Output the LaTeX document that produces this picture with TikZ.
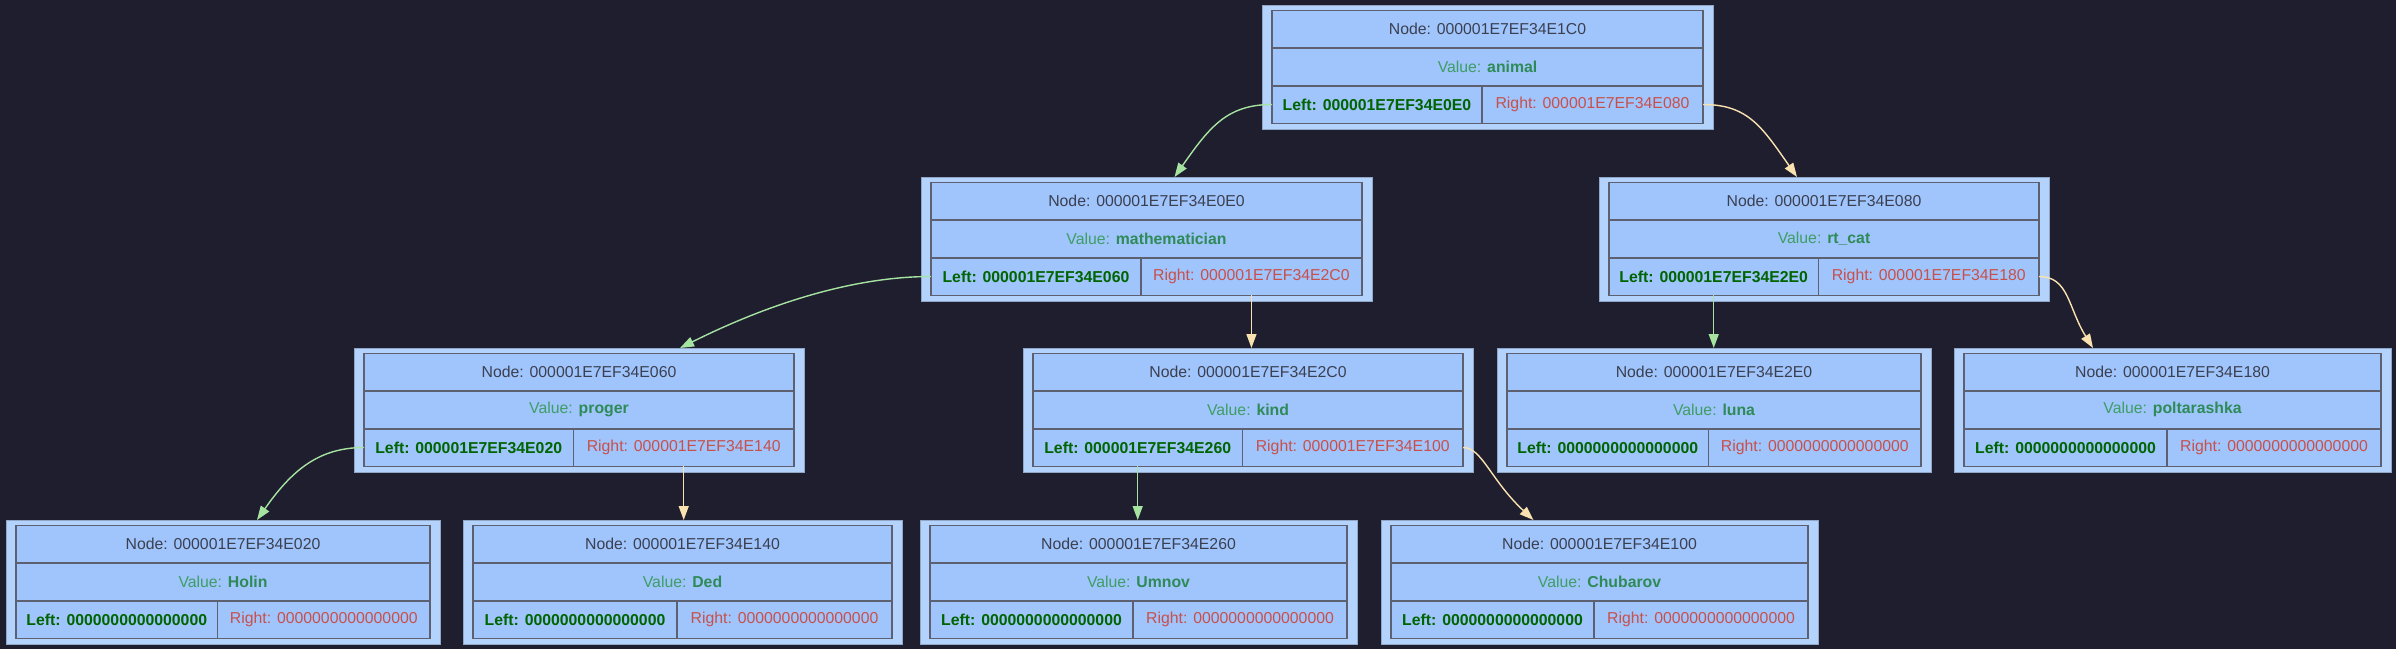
\documentclass[tikz,border=0pt]{standalone}
\usepackage{fontspec}
\setmainfont{Liberation Sans}
\usetikzlibrary{arrows.meta,calc}
\definecolor{bgc}{HTML}{1E1E2E}
\definecolor{outerfill}{HTML}{B4D3FC}
\definecolor{outerline}{HTML}{8FA6C6}
\definecolor{cellfill}{HTML}{A0C4FC}
\definecolor{cellline}{HTML}{5C6070}
\definecolor{nodetxt}{HTML}{3B4050}
\definecolor{valtxt}{HTML}{3E9E64}
\definecolor{valbold}{HTML}{2E8B57}
\definecolor{lefttxt}{HTML}{006400}
\definecolor{righttxt}{HTML}{C8504A}
\definecolor{leftedge}{HTML}{A6E3A1}
\definecolor{rightedge}{HTML}{F9E2AF}
\tikzset{
  outerbox/.style={draw=outerline, line width=0.4pt, fill=outerfill, minimum height=62pt, inner sep=0pt, outer sep=0pt},
  cell/.style={draw=cellline, line width=0.8pt, fill=cellfill, minimum height=18.8pt, inner sep=0pt, outer sep=0pt, font=\fontsize{7.9}{9}\selectfont},
  ledge/.style={draw=leftedge, line width=0.7pt, -{Triangle[length=7pt,width=5pt]}},
  redge/.style={draw=rightedge, line width=0.7pt, -{Triangle[length=7pt,width=5pt]}}
}
\newcommand{\tnode}[8]{%
  \node[outerbox, minimum width=#4*0.5pt, anchor=north west] (#1) at (#2,#3) {};
  \node[cell, minimum width=(#4-20)*0.5pt, anchor=north] (#1-h) at ([yshift=-2.75pt]#1.north) {\color{nodetxt}Node: #5};
  \node[cell, minimum width=(#4-20)*0.5pt, anchor=north] (#1-v) at (#1-h.south) {\color{valtxt}Value: {\bfseries\color{valbold}#6}};
  \node[cell, minimum width=0.487*(#4-20)*0.5pt, anchor=north west] (#1-L) at (#1-v.south west) {\color{lefttxt}\bfseries Left: #7};
  \node[cell, minimum width=0.513*(#4-20)*0.5pt, anchor=north east] (#1-R) at (#1-v.south east) {\color{righttxt}Right: #8};
}
\begin{document}
\begin{tikzpicture}[x=0.5pt,y=-0.5pt]
\useasboundingbox (0,0) rectangle (2396,649);
\fill[bgc] (0,0) rectangle (2396,649);
\tnode{n1C0}{1262}{5}{451}{000001E7EF34E1C0}{animal}{000001E7EF34E0E0}{000001E7EF34E080}
\tnode{n0E0}{921}{177}{451}{000001E7EF34E0E0}{mathematician}{000001E7EF34E060}{000001E7EF34E2C0}
\tnode{n080}{1599}{177}{450}{000001E7EF34E080}{rt\_cat}{000001E7EF34E2E0}{000001E7EF34E180}
\tnode{n060}{354}{348}{450}{000001E7EF34E060}{proger}{000001E7EF34E020}{000001E7EF34E140}
\tnode{n2C0}{1023}{348}{450}{000001E7EF34E2C0}{kind}{000001E7EF34E260}{000001E7EF34E100}
\tnode{n2E0}{1497}{348}{434}{000001E7EF34E2E0}{luna}{0000000000000000}{0000000000000000}
\tnode{n180}{1954}{348}{437}{000001E7EF34E180}{poltarashka}{0000000000000000}{0000000000000000}
\tnode{n020}{6}{520}{434}{000001E7EF34E020}{Holin}{0000000000000000}{0000000000000000}
\tnode{n140}{463}{520}{439}{000001E7EF34E140}{Ded}{0000000000000000}{0000000000000000}
\tnode{n260}{920}{520}{437}{000001E7EF34E260}{Umnov}{0000000000000000}{0000000000000000}
\tnode{n100}{1381}{520}{437}{000001E7EF34E100}{Chubarov}{0000000000000000}{0000000000000000}
% edges
\draw[ledge] (n1C0-L.west) .. controls +(-45,0) and +(35,-50) .. ([xshift=14pt]n0E0.north);
\draw[redge] (n1C0-R.east) .. controls +(45,0) and +(-35,-50) .. ([xshift=-13.5pt]n080.north);
\draw[ledge] (n0E0-L.west) .. controls +(-90,0) and +(70,-35) .. ([xshift=50.5pt]n060.north);
\draw[redge] (n0E0-R.south) -- (n0E0-R.south |- n2C0.north);
\draw[ledge] (n080-L.south) -- (n080-L.south |- n2E0.north);
\draw[redge] (n080-R.east) .. controls +(30,0) and +(-25,-40) .. ([xshift=-39.75pt]n180.north);
\draw[ledge] (n060-L.west) .. controls +(-45,0) and +(35,-50) .. ([xshift=17pt]n020.north);
\draw[redge] (n060-R.south) -- (n060-R.south |- n140.north);
\draw[ledge] (n2C0-L.south) -- (n2C0-L.south |- n260.north);
\draw[redge] (n2C0-R.east) .. controls +(19,0) and +(-43,-40) .. ([xshift=-33pt]n100.north);
\end{tikzpicture}
\end{document}
